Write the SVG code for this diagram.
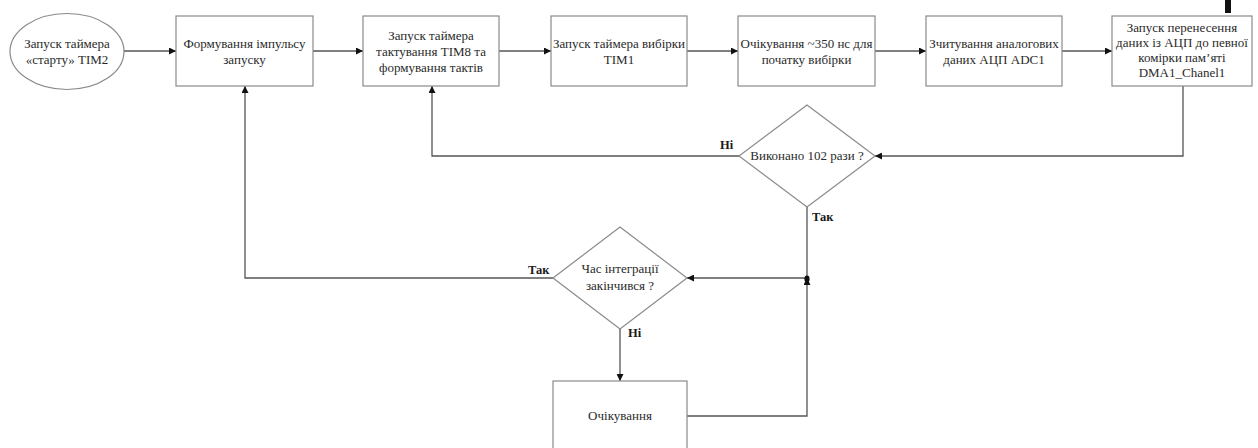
<svg xmlns="http://www.w3.org/2000/svg" width="1258" height="448" viewBox="0 0 1258 448">
  <style>
    .box { fill: #ffffff; stroke: #8a8a8a; stroke-width: 1.2; }
    .txt { font-family: "Liberation Serif", "DejaVu Serif Condensed", "DejaVu Serif", serif; font-size: 13px; fill: #2a2a2a; text-anchor: middle; }
    .lbl { font-family: "Liberation Serif", "DejaVu Serif Condensed", "DejaVu Serif", serif; font-size: 12.5px; font-weight: bold; fill: #1a1a1a; }
    .wire { fill: none; stroke: #555555; stroke-width: 1.3; }
  </style>
  <defs>
    <marker id="arrow" viewBox="0 0 10 10" refX="10" refY="5" markerWidth="7" markerHeight="7" markerUnits="userSpaceOnUse" orient="auto">
      <path d="M0,0 L10,5 L0,10 z" fill="#111111"/>
    </marker>
  </defs>

  <rect width="1258" height="448" fill="#ffffff"/>

  <!-- connectors -->
  <g id="connectors">
    <line class="wire" x1="124" y1="51" x2="176" y2="51" marker-end="url(#arrow)"/>
    <line class="wire" x1="313" y1="51" x2="363" y2="51" marker-end="url(#arrow)"/>
    <line class="wire" x1="499" y1="51" x2="551" y2="51" marker-end="url(#arrow)"/>
    <line class="wire" x1="687" y1="51" x2="738" y2="51" marker-end="url(#arrow)"/>
    <line class="wire" x1="875" y1="51" x2="926" y2="51" marker-end="url(#arrow)"/>
    <line class="wire" x1="1062" y1="51" x2="1112" y2="51" marker-end="url(#arrow)"/>
    <!-- DMA box back to loop check -->
    <polyline class="wire" points="1183,86 1183,156 875,156" marker-end="url(#arrow)"/>
    <!-- not done: back to clock timer -->
    <polyline class="wire" points="739,156 432,156 432,86" marker-end="url(#arrow)"/>
    <!-- done: down to the merge point -->
    <line class="wire" x1="807" y1="207" x2="807" y2="278"/>
    <!-- merge point to integration check -->
    <line class="wire" x1="807" y1="278" x2="687" y2="278" marker-end="url(#arrow)"/>
    <!-- integration over: back to start pulse -->
    <polyline class="wire" points="553,278 245,278 245,86" marker-end="url(#arrow)"/>
    <!-- not over: wait -->
    <line class="wire" x1="620" y1="329" x2="620" y2="381" marker-end="url(#arrow)"/>
    <!-- wait back up to the merge point -->
    <polyline class="wire" points="687,416 807,416 807,278" marker-end="url(#arrow)"/>
    <ellipse cx="807" cy="279" rx="2.6" ry="3.4" fill="#111111"/>
  </g>

  <g id="n-start">
    <ellipse class="box" cx="67" cy="51.5" rx="57" ry="38"/>
    <text class="txt" x="67" y="48">Запуск таймера</text>
    <text class="txt" x="67" y="64">«старту» TIM2</text>
  </g>

  <g id="n-pulse">
    <rect class="box" x="176" y="16" width="137" height="70"/>
    <text class="txt" x="244.5" y="48">Формування імпульсу</text>
    <text class="txt" x="244.5" y="64">запуску</text>
  </g>

  <g id="n-tim8">
    <rect class="box" x="363" y="16" width="136" height="70"/>
    <text class="txt" x="431" y="40">Запуск таймера</text>
    <text class="txt" x="431" y="56">тактування TIM8 та</text>
    <text class="txt" x="431" y="72">формування тактів</text>
  </g>

  <g id="n-tim1">
    <rect class="box" x="551" y="16" width="136" height="70"/>
    <text class="txt" x="619" y="48">Запуск таймера вибірки</text>
    <text class="txt" x="619" y="64">TIM1</text>
  </g>

  <g id="n-wait350">
    <rect class="box" x="738" y="16" width="137" height="70"/>
    <text class="txt" x="806.5" y="48">Очікування ~350 нс для</text>
    <text class="txt" x="806.5" y="64">початку вибірки</text>
  </g>

  <g id="n-adc">
    <rect class="box" x="926" y="16" width="136" height="70"/>
    <text class="txt" x="994" y="48">Зчитування аналогових</text>
    <text class="txt" x="994" y="64">даних АЦП ADC1</text>
  </g>

  <g id="n-dma">
    <rect class="box" x="1112" y="16" width="140" height="70"/>
    <text class="txt" x="1182" y="32">Запуск перенесення</text>
    <text class="txt" x="1182" y="47">даних із АЦП до певної</text>
    <text class="txt" x="1182" y="62">комірки пам’яті</text>
    <text class="txt" x="1182" y="77">DMA1_Chanel1</text>
  </g>

  <g id="n-check102">
    <polygon class="box" points="807,105 875,156 807,207 739,156"/>
    <text class="txt" x="807" y="160">Виконано 102 рази ?</text>
    <text class="lbl" x="720" y="149">Ні</text>
    <text class="lbl" x="812" y="221">Так</text>
  </g>

  <g id="n-integration">
    <polygon class="box" points="620,227 687,278 620,329 553,278"/>
    <text class="txt" x="620" y="273">Час інтеграції</text>
    <text class="txt" x="620" y="290">закінчився ?</text>
    <text class="lbl" x="528" y="274">Так</text>
    <text class="lbl" x="628" y="337">Ні</text>
  </g>

  <g id="n-wait">
    <rect class="box" x="553" y="381" width="134" height="80"/>
    <text class="txt" x="620" y="420">Очікування</text>
  </g>

  <rect x="1225" y="0" width="6" height="13" fill="#111111"/>
</svg>
